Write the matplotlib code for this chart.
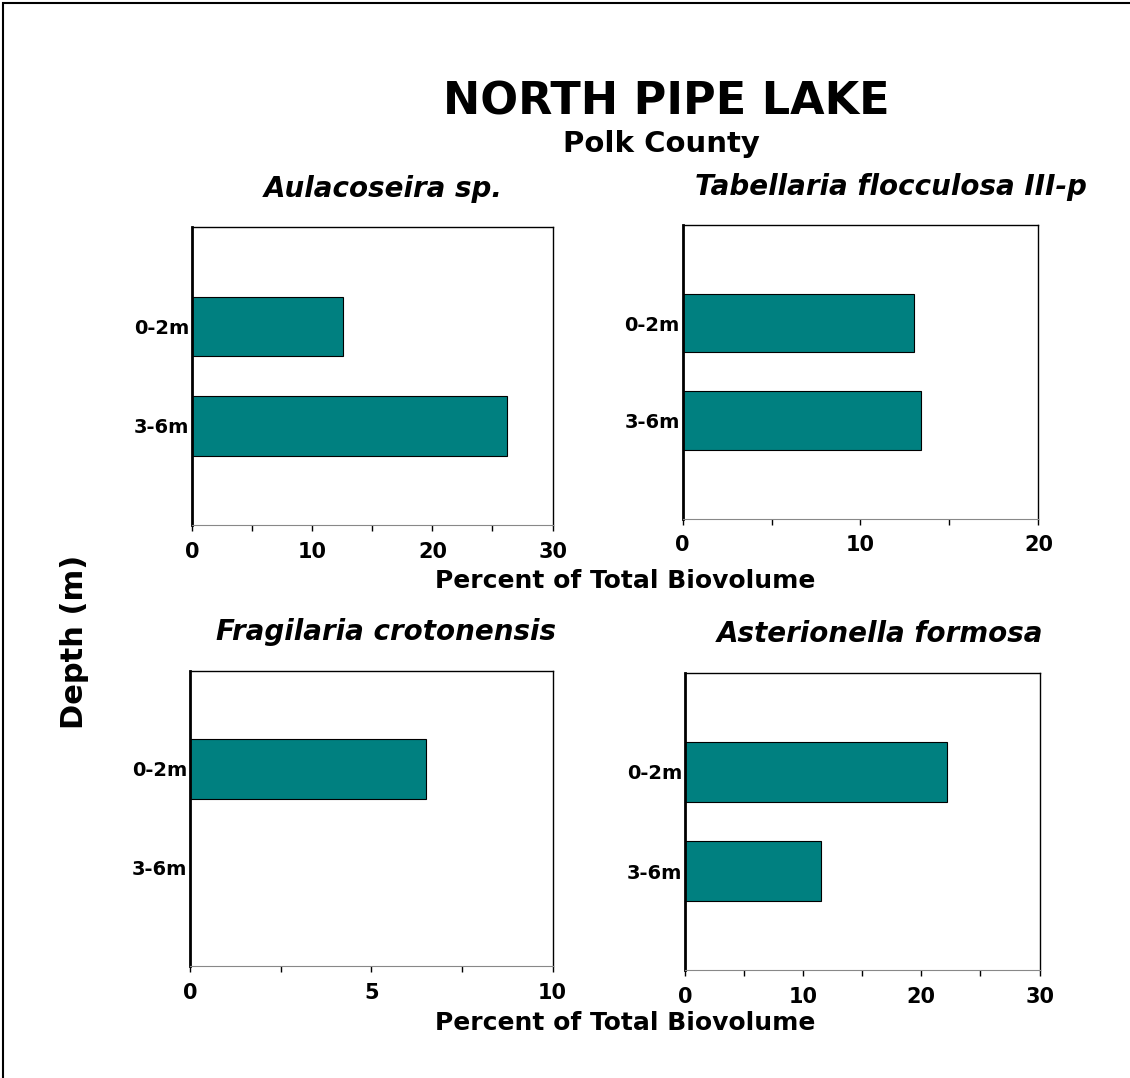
"""Most frequent phytoplankton taxa by depth, North Pipe Lake (Polk County)."""

import matplotlib

matplotlib.use("Agg")
import matplotlib.pyplot as plt
from matplotlib.patches import Rectangle
from matplotlib.ticker import MultipleLocator

DEPTHS = ["3-6m", "0-2m"]  # bottom-to-top order on the y axis

TAXA = [
    "Aulacoseira sp.",
    "Tabellaria flocculosa III-p",
    "Fragilaria crotonensis",
    "Asterionella formosa",
]
# percent of total biovolume, same order as DEPTHS
SHALLOW = [12.6, 13.0, 6.5, 22.2]
DEEP = [26.2, 13.4, 0.0, 11.5]
XMAX = [30, 20, 10, 30]
XSTEP = [10, 10, 5, 10]

# axes boxes in figure fractions: left, bottom, width, height
BOXES = [
    (0.170, 0.513, 0.319, 0.276),
    (0.604, 0.519, 0.315, 0.272),
    (0.168, 0.104, 0.321, 0.274),
    (0.606, 0.100, 0.314, 0.276),
]
TITLE_X = [0.53, 0.585, 0.54, 0.55]
BAR = "#008080"

fig = plt.figure(figsize=(11.3, 10.78), dpi=100)
fig.patches.append(
    Rectangle((0.003, -0.01), 1.2, 1.007, transform=fig.transFigure,
              fill=False, edgecolor="black", linewidth=1.5)
)

for i, name in enumerate(TAXA):
    ax = fig.add_axes(BOXES[i])
    vals = [DEEP[i], SHALLOW[i]]
    ax.barh(range(len(DEPTHS)), vals, height=0.6, color=BAR,
            edgecolor="black", linewidth=0.8)
    ax.set_xlim(0, XMAX[i])
    ax.set_ylim(-1, 2)
    ax.set_yticks(range(len(DEPTHS)))
    ax.set_yticklabels(DEPTHS, fontsize=14, fontweight="bold")
    ax.tick_params(axis="y", length=0, pad=2)
    ax.xaxis.set_major_locator(MultipleLocator(XSTEP[i]))
    ax.xaxis.set_minor_locator(MultipleLocator(XSTEP[i] / 2))
    ax.tick_params(axis="x", which="both", direction="out", length=4,
                   width=1, labelsize=15, pad=8)
    for lab in ax.get_xticklabels():
        lab.set_fontweight("bold")
    ax.spines["left"].set_linewidth(2)
    ax.spines["bottom"].set_color("#888888")
    for s in ("top", "right"):
        ax.spines[s].set_linewidth(1)
    ax.set_title(name, fontsize=20, fontweight="bold", style="italic",
                 pad=22, x=TITLE_X[i])

fig.text(0.59, 0.905, "NORTH PIPE LAKE", ha="center", va="center",
         fontsize=32, fontweight="bold")
fig.text(0.585, 0.866, "Polk County", ha="center", va="center",
         fontsize=21, fontweight="bold")
for y in (0.461, 0.051):
    fig.text(0.553, y, "Percent of Total Biovolume", ha="center", va="center",
             fontsize=18, fontweight="bold")
fig.text(0.066, 0.405, "Depth (m)", ha="center", va="center", rotation=90,
         fontsize=22, fontweight="bold")

fig.savefig("out.png", dpi=100)
